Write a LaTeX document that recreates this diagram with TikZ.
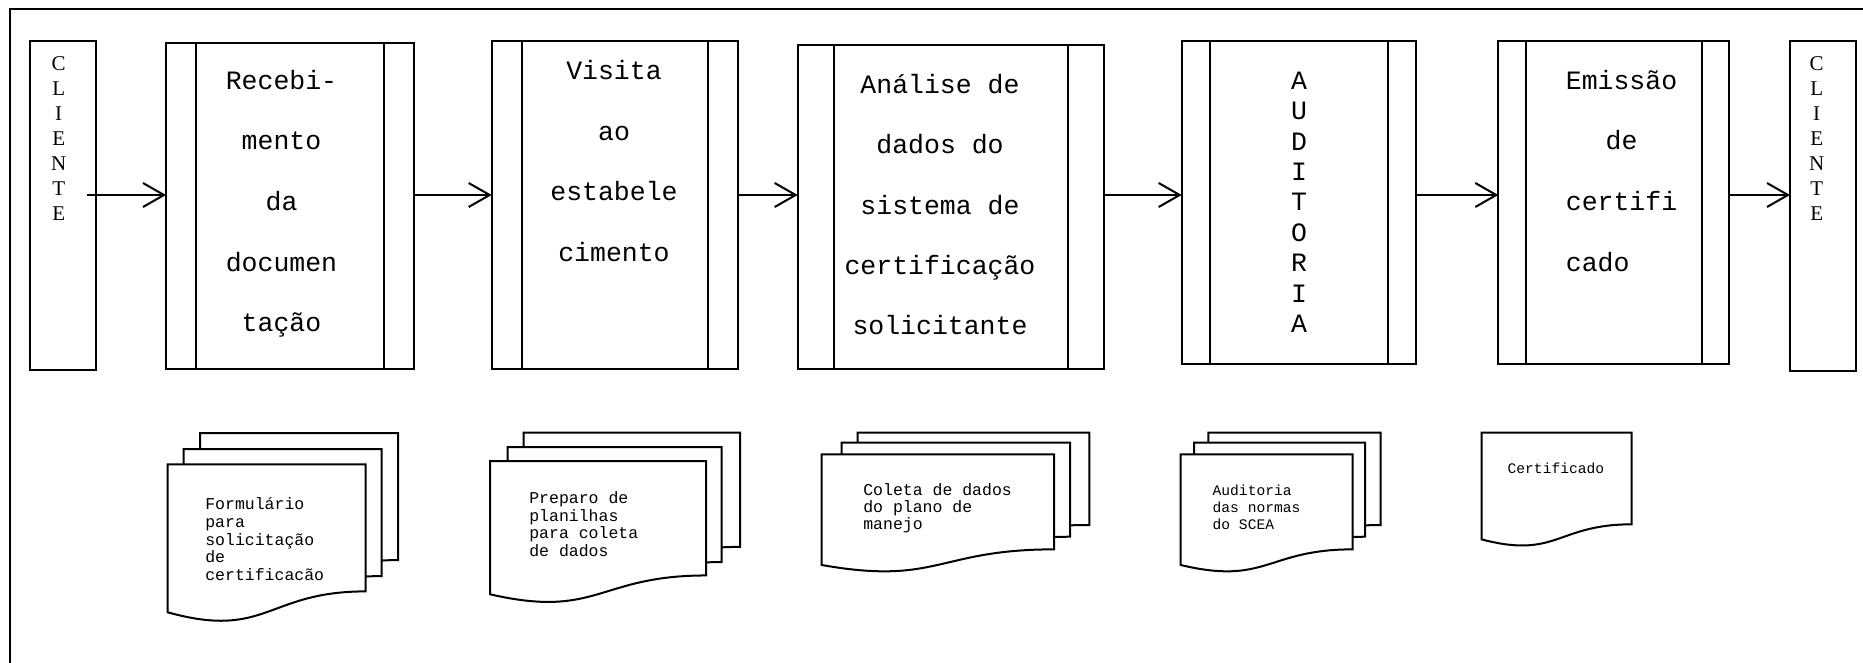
\documentclass[tikz,border=0pt]{standalone}
\usepackage{fontspec}
\setmainfont{Liberation Serif}
\setmonofont{Liberation Mono}
\usetikzlibrary{arrows.meta}
\newcommand\docsheet[4]{%
  \filldraw[docstyle] (#1,{#2+#4}) -- (#1,#2) -- ({#1+#3},#2) -- ({#1+#3},{#2+0.8587*#4})
    .. controls ({#1+0.5*#3},{#2+0.8587*#4}) and ({#1+0.5*#3},{#2+1.1859*#4}) .. (#1,{#2+#4}) -- cycle;}
\begin{document}
\begin{tikzpicture}[x=1pt,y=-1pt,line width=2pt,
  proc/.style={draw,rectangle,inner sep=0pt,outer sep=0pt},
  client/.style={draw,rectangle,inner sep=0pt,outer sep=0pt},
  arr/.style={-{Straight Barb[length=21pt,width=24pt]}},
  docstyle/.style={draw=black,fill=white,line join=miter},
  bigtxt/.style={font=\ttfamily\fontsize{26.5}{30}\selectfont,inner sep=0pt,anchor=base},
  doctxt/.style={font=\ttfamily\fontsize{16.5}{18}\selectfont,inner sep=0pt,anchor=base west},
  smalltxt/.style={font=\ttfamily\fontsize{14.6}{17}\selectfont,inner sep=0pt,anchor=base west},
  cltxt/.style={font=\fontsize{21}{25}\selectfont,inner sep=0pt,anchor=base}]
\useasboundingbox (0,0) rectangle (1863,663);
% outer frame (clipped by the page)
\draw (10,670) -- (10,9) -- (1870,9);

% clients
\node[client,minimum width=66pt,minimum height=329pt] (cl1) at (63,205.5) {};
\node[client,minimum width=66pt,minimum height=329.7pt] (cl2) at (1823,205.85) {};
\foreach \t [count=\i] in {C,L,I,E,N,T,E}{
  \node[cltxt] (cla\i) at (58.7,{71+24.95*(\i-1)}) {\t};
  \node[cltxt] (clb\i) at (1816.7,{71+24.95*(\i-1)}) {\t};
}

% process boxes
\node[proc,minimum width=248pt,minimum height=326pt] (p1) at (290,206) {};
\node[proc,minimum width=246.6pt,minimum height=328pt] (p2) at (615,205) {};
\node[proc,minimum width=306.3pt,minimum height=324pt] (p3) at (950.85,207) {};
\node[proc,minimum width=234.3pt,minimum height=323pt] (p4) at (1298.85,202.5) {};
\node[proc,minimum width=231pt,minimum height=323.3pt] (p5) at (1613.8,202.65) {};
\foreach \n/\d in {p1/30,p2/30.3,p3/36.3,p4/28.2,p5/27.4}{
  \draw ([xshift=\d pt]\n.north west) -- ([xshift=\d pt]\n.south west);
  \draw ([xshift=-\d pt]\n.north east) -- ([xshift=-\d pt]\n.south east);
}

% process texts
\foreach \t [count=\i] in {Recebi-,mento,da,documen,tação}
  \node[bigtxt] (p1t\i) at (281.5,{89.3+60.6*(\i-1)}) {\t};
\foreach \t [count=\i] in {Visita,ao,estabele,cimento}
  \node[bigtxt] (p2t\i) at (614,{80+60.4*(\i-1)}) {\t};
\foreach \t [count=\i] in {Análise de,dados do,sistema de,certificação,solicitante}
  \node[bigtxt] (p3t\i) at (940,{93.3+60.4*(\i-1)}) {\t};
\foreach \t [count=\i] in {A,U,D,I,T,O,R,I,A}
  \node[bigtxt] (p4t\i) at (1299,{89.3+30.4*(\i-1)}) {\t};
\node[bigtxt] (p5t1) at (1621.5,89.3) {Emissão};
\node[bigtxt] (p5t2) at (1621.5,150) {de};
\node[bigtxt] (p5t3) at (1621.5,210.7) {certifi};
\node[bigtxt,anchor=base west] (p5t4) at (p5t3.base west |- 0,271.4) {cado};

% arrows
\coordinate (ay) at (0,195);
\coordinate (a0) at (87,195);
\draw[arr] (a0) -- (p1.west |- ay);
\draw[arr] (p1.east |- ay) -- (p2.west |- ay);
\draw[arr] (p2.east |- ay) -- (p3.west |- ay);
\draw[arr] (p3.east |- ay) -- (p4.west |- ay);
\draw[arr] (p4.east |- ay) -- (p5.west |- ay);
\draw[arr] (p5.east |- ay) -- (cl2.west |- ay);

% documents group 1
\docsheet{200}{433}{198}{148}
\docsheet{183.7}{449}{198}{148}
\docsheet{167.7}{464.3}{198}{148}
\foreach \t [count=\i] in {Formulário,para,solicitação,de,certificacão}
  \node[doctxt] (d1t\i) at (204.3,{509.3+17.85*(\i-1)}) {\t};

% documents group 2
\docsheet{523.7}{432.7}{216.3}{133}
\docsheet{507.7}{447}{214}{134}
\docsheet{490}{461}{216}{133.3}
\foreach \t [count=\i] in {Preparo de,planilhas,para coleta,de dados}
  \node[doctxt] (d2t\i) at (528.3,{503.5+17.5*(\i-1)}) {\t};

% documents group 3
\docsheet{857.7}{432.7}{231.6}{107.5}
\docsheet{841.7}{442.7}{228.3}{109.5}
\docsheet{821.7}{454.3}{232.3}{110.7}
\foreach \t [count=\i] in {Coleta de dados,do plano de,manejo}
  \node[doctxt] (d3t\i) at (862.3,{495+17.2*(\i-1)}) {\t};

% documents group 4
\docsheet{1208.3}{432.7}{172.3}{107.5}
\docsheet{1194}{442.7}{171}{109.5}
\docsheet{1180.7}{454.3}{172}{110.7}
\foreach \t [count=\i] in {Auditoria,das normas,do SCEA}
  \node[smalltxt] (d4t\i) at (1211.7,{495+17.2*(\i-1)}) {\t};

% document 5
\docsheet{1481.7}{432.7}{150}{106.7}
\node[smalltxt] (d5t1) at (1506.7,473.3) {Certificado};
\end{tikzpicture}
\end{document}
